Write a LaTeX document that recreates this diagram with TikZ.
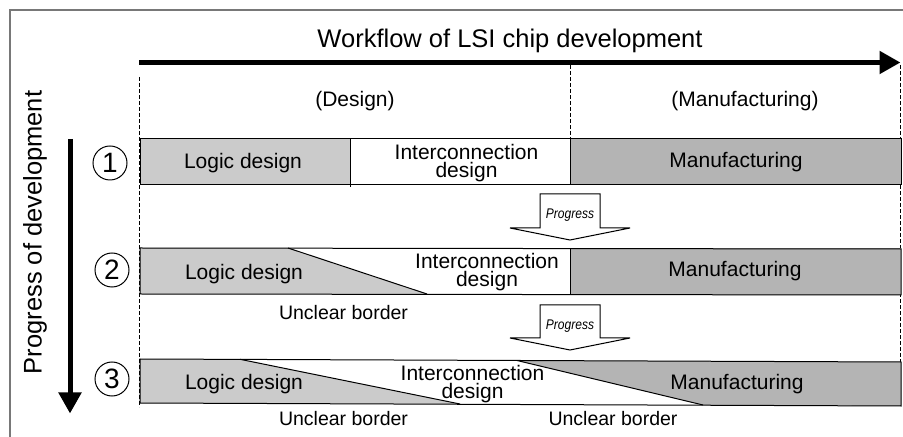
\documentclass[tikz,border=0pt]{standalone}
\usepackage{fontspec}
\setmainfont{Liberation Sans}
\usetikzlibrary{arrows.meta}
\definecolor{logicgray}{RGB}{203,203,203}
\definecolor{manugray}{RGB}{180,180,180}
\definecolor{framegray}{RGB}{120,120,120}

\begin{document}
\begin{tikzpicture}
		[x=0.5pt, y=-0.5pt,
		 label/.style={font=\fontsize{10.5}{9.25}\selectfont, align=center, inner sep=0pt},
		 heading/.style={font=\fontsize{12.75}{15}\selectfont, inner sep=0pt},
		 note/.style={font=\fontsize{9.75}{11}\selectfont, inner sep=0pt},
		 number/.style={circle, draw=black, line width=0.5pt, minimum size=17pt, inner sep=0pt, font=\fontsize{14}{14}\selectfont},
		 bar/.style={draw=black, line width=0.5pt},
		 guide/.style={dash pattern=on 2pt off 1pt, line width=0.4pt},
		 bigarrow/.style={line width=2.5pt, -{Triangle[length=10.5pt, width=11pt]}},
		 progress/.style={draw=black, line width=0.5pt, fill=white},
		 progresstext/.style={font=\fontsize{7}{8}\selectfont\itshape\addfontfeatures{FakeStretch=0.86}, inner sep=0pt}]
		\useasboundingbox (0,0) rectangle (903,437);
		\draw[framegray, line width=0.8pt] (10,437) -- (10,10) -- (903,10);

		\coordinate (flowstart) at (139,62.5);
		\coordinate (flowend) at (900.5,62.5);
		\coordinate (devstart) at (70,139);
		\coordinate (devend) at (70,413.5);
		\draw[bigarrow] (flowstart) -- (flowend);
		\draw[bigarrow] (devstart) -- (devend);
		\node[heading, anchor=base] (title) at (510,47.5) {Workflow of LSI chip development};
		\node[heading, rotate=90, anchor=base] (devtext) at (41.7,232.5) {Progress of development};

		\draw[guide] (139.5,77) -- (139.5,407);
		\draw[guide] (570.5,65) -- (570.5,139);
		\draw[guide] (900.5,65) -- (900.5,362);
		\node[label, anchor=base] (design) at (355,107) {(Design)};
		\node[label, anchor=base] (manufacturing) at (745,107) {(Manufacturing)};

		\fill[logicgray] (140,139) rectangle (350,185);
		\fill[manugray] (570,139) rectangle (901,185);
		\draw[bar] (140,139) rectangle (901,185);
		\draw[bar] (350,139) -- (350,187);
		\draw[bar] (570,139) -- (570,185);
		\node[number] (num1) at (110,163) {1};
		\node[label, anchor=base] (logic1) at (243,169) {Logic design};
		\node[label] (inter1) at (466.5,163) {Interconnection\\design};
		\node[label, anchor=base] (manu1) at (736,168) {Manufacturing};

		\draw[progress] (540,194) -- (600,194) -- (600,228) -- (630,228) -- (570,240) -- (510,228) -- (540,228) -- cycle;
		\node[progresstext, anchor=base] (progress1) at (570,219) {Progress};

		\fill[logicgray] (140,248) -- (288,248) -- (427,294) -- (140,294) -- cycle;
		\fill[manugray] (570,248.5) rectangle (901,295);
		\draw[bar] (140,248) -- (901,249) -- (901,295) -- (140,294) -- cycle;
		\draw[bar] (288,248) -- (427,294);
		\draw[bar] (570,248.5) -- (570,294.5);
		\node[number] (num2) at (112,270) {2};
		\node[label, anchor=base] (logic2) at (244,280) {Logic design};
		\node[label] (inter2) at (487,272) {Interconnection\\design};
		\node[label, anchor=base] (manu2) at (735,277) {Manufacturing};
		\node[note, anchor=base] (border2) at (343.5,320) {Unclear border};

		\draw[progress] (540,305) -- (600,305) -- (600,338) -- (630,338) -- (570,350) -- (510,338) -- (540,338) -- cycle;
		\node[progresstext, anchor=base] (progress2) at (570,330) {Progress};

		\fill[logicgray] (140,359) -- (240,359.3) -- (460,404) -- (140,403) -- cycle;
		\fill[manugray] (517,360.5) -- (901,362) -- (901,406) -- (703,405) -- cycle;
		\draw[bar] (140,359) -- (901,362) -- (901,406) -- (140,403) -- cycle;
		\draw[bar] (240,359.3) -- (460,404);
		\draw[bar] (517,360.5) -- (703,405);
		\node[number] (num3) at (112,379) {3};
		\node[label, anchor=base] (logic3) at (244,390) {Logic design};
		\node[label] (inter3) at (472.5,384) {Interconnection\\design};
		\node[label, anchor=base] (manu3) at (737,390) {Manufacturing};
		\node[note, anchor=base] (border3a) at (343.5,425) {Unclear border};
		\node[note, anchor=base] (border3b) at (613,425) {Unclear border};
	\end{tikzpicture}
\end{document}
